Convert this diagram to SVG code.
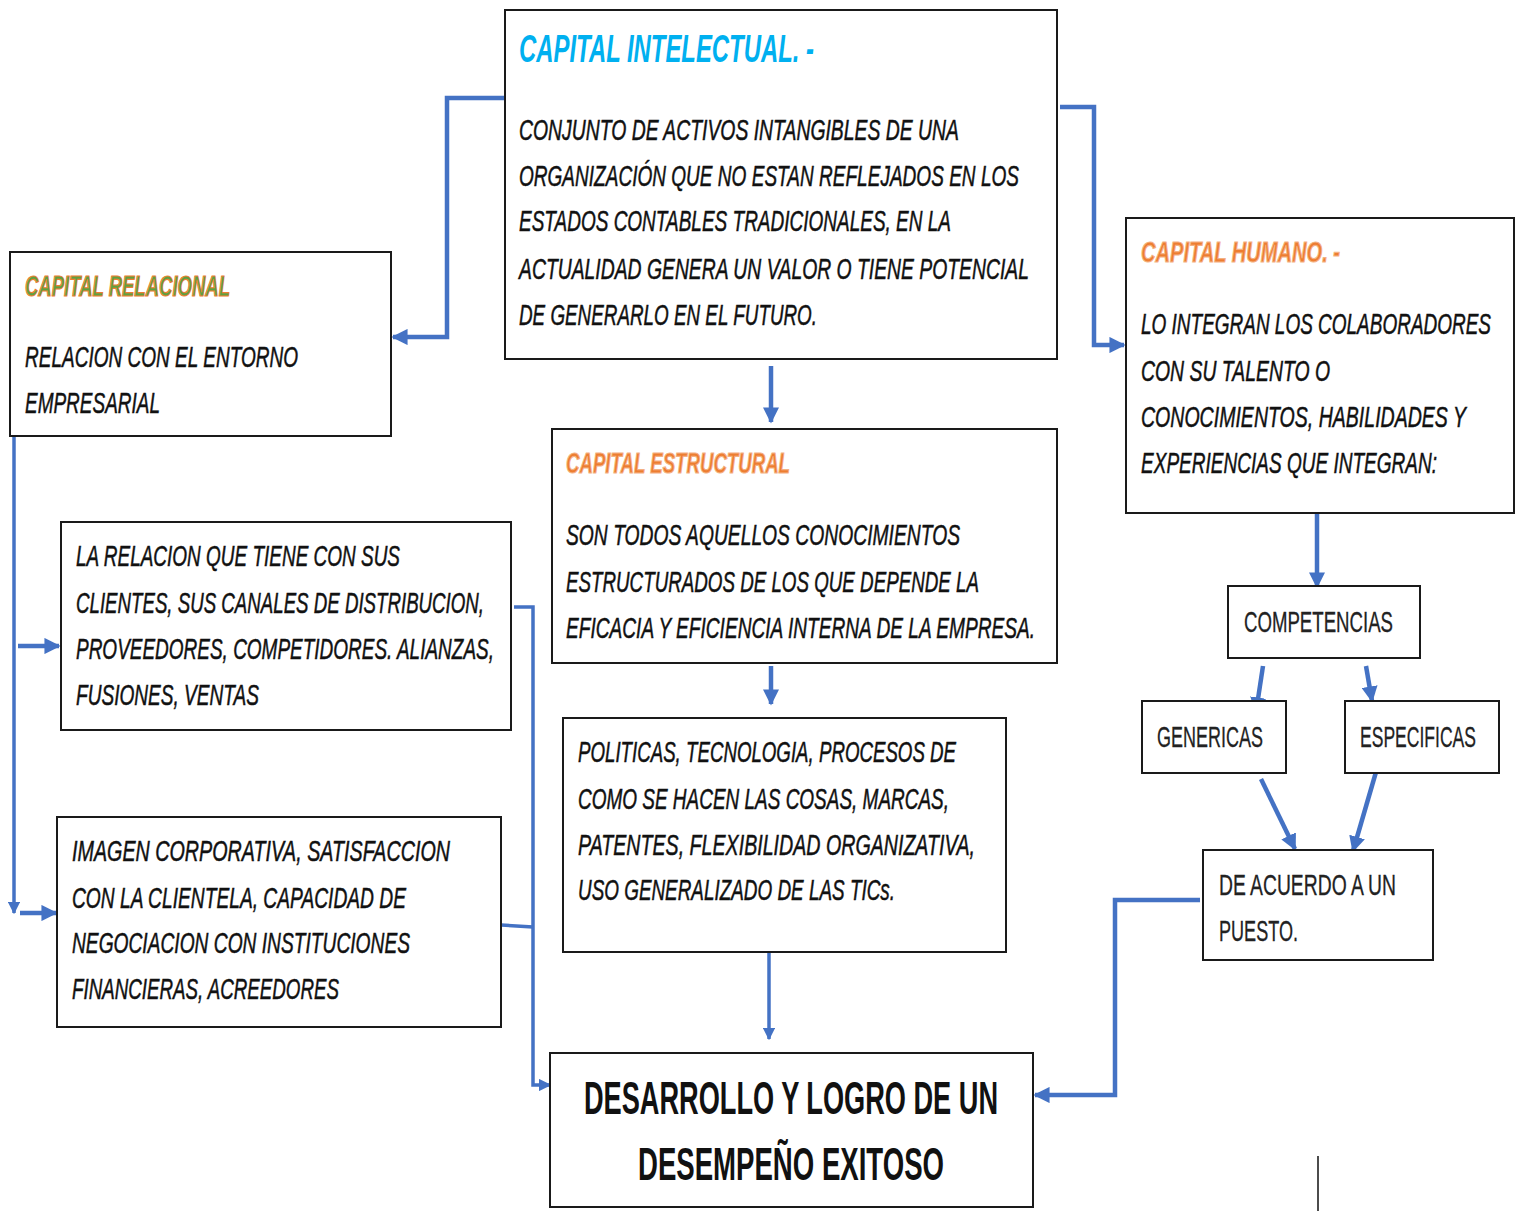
<svg xmlns="http://www.w3.org/2000/svg" width="1518" height="1211" viewBox="0 0 1518 1211">
<defs>
<style>
.box{fill:#fff;stroke:#1a1a1a;stroke-width:2}
.t{font-family:"Liberation Sans",Arial,sans-serif;font-style:italic;font-size:29px;fill:#111;stroke:#111;stroke-width:0.5}
.n{font-family:"Liberation Sans",Arial,sans-serif;font-size:29px;fill:#222;stroke:#222;stroke-width:0.3}
.big{font-family:"Liberation Sans",Arial,sans-serif;font-weight:bold;font-size:46px;fill:#111}
.ti{font-family:"Liberation Sans",Arial,sans-serif;font-style:italic;font-weight:bold;font-size:39px;fill:#00B0F0}
.to{font-family:"Liberation Sans",Arial,sans-serif;font-style:italic;font-weight:bold;font-size:29px;fill:#ED7D31;stroke:#F4B183;stroke-width:1.2}
.tg{font-family:"Liberation Sans",Arial,sans-serif;font-style:italic;font-weight:bold;font-size:29px;fill:#5FA040;stroke:#ED7D31;stroke-width:1.2}
.c{fill:none;stroke:#4472C4;stroke-width:4.5}
.k{fill:none;stroke:#4472C4;stroke-width:3.5}
</style>
<marker id="ah" viewBox="0 0 10 10" refX="9" refY="5" markerWidth="3.6" markerHeight="3.6" orient="auto" markerUnits="strokeWidth">
<path d="M0,0 L10,5 L0,10 z" fill="#4472C4"/>
</marker>
</defs>

<g id="connectors">
<path class="c" d="M507,98 H447 V337 H393" marker-end="url(#ah)"/>
<path class="c" d="M1060,107 H1094 V345 H1124" marker-end="url(#ah)"/>
<path class="c" d="M771,366 V422" marker-end="url(#ah)"/>
<path class="c" d="M771,666 V704" marker-end="url(#ah)"/>
<path class="k" d="M769,952 V1039" marker-end="url(#ah)"/>
<path class="c" d="M1317,513 V587" marker-end="url(#ah)"/>
<path class="c" d="M1263,666 L1256,712" marker-end="url(#ah)"/>
<path class="c" d="M1366,666 L1372,701" marker-end="url(#ah)"/>
<path class="c" d="M1261,779 L1295,849" marker-end="url(#ah)"/>
<path class="c" d="M1376,772 L1353,851" marker-end="url(#ah)"/>
<path class="c" d="M1200,900 H1115 V1095 H1035" marker-end="url(#ah)"/>
<path class="k" d="M14,437 V913" marker-end="url(#ah)"/>
<path class="c" d="M18,646 H59" marker-end="url(#ah)"/>
<path class="c" d="M20,913 H56" marker-end="url(#ah)"/>
<path class="k" d="M514,607 H533 V1085 H550" marker-end="url(#ah)"/>
<path class="k" d="M501,925 L533,927"/>
<path d="M1318,1156 V1211" stroke="#111" stroke-width="1.5" fill="none"/>
</g>

<g id="capital-intelectual">
<rect class="box" x="505" y="10" width="552" height="349"/>
<text class="ti" x="519" y="62" textLength="295" lengthAdjust="spacingAndGlyphs">CAPITAL INTELECTUAL. -</text>
<text class="t" x="519" y="140" textLength="440" lengthAdjust="spacingAndGlyphs">CONJUNTO DE ACTIVOS INTANGIBLES DE UNA</text>
<text class="t" x="519" y="186" textLength="500" lengthAdjust="spacingAndGlyphs">ORGANIZACIÓN QUE NO ESTAN REFLEJADOS EN LOS</text>
<text class="t" x="519" y="231" textLength="432" lengthAdjust="spacingAndGlyphs">ESTADOS CONTABLES TRADICIONALES, EN LA</text>
<text class="t" x="519" y="279" textLength="510" lengthAdjust="spacingAndGlyphs">ACTUALIDAD GENERA UN VALOR O TIENE POTENCIAL</text>
<text class="t" x="519" y="325" textLength="298" lengthAdjust="spacingAndGlyphs">DE GENERARLO EN EL FUTURO.</text>
</g>

<g id="capital-relacional">
<rect class="box" x="10" y="252" width="381" height="184"/>
<text class="tg" x="25" y="296" textLength="205" lengthAdjust="spacingAndGlyphs">CAPITAL RELACIONAL</text>
<text class="t" x="25" y="367" textLength="273" lengthAdjust="spacingAndGlyphs">RELACION CON EL ENTORNO</text>
<text class="t" x="25" y="413" textLength="135" lengthAdjust="spacingAndGlyphs">EMPRESARIAL</text>
</g>

<g id="capital-humano">
<rect class="box" x="1126" y="218" width="388" height="295"/>
<text class="to" x="1141" y="262" textLength="199" lengthAdjust="spacingAndGlyphs">CAPITAL HUMANO. -</text>
<text class="t" x="1141" y="334" textLength="350" lengthAdjust="spacingAndGlyphs">LO INTEGRAN LOS COLABORADORES</text>
<text class="t" x="1141" y="381" textLength="189" lengthAdjust="spacingAndGlyphs">CON SU TALENTO O</text>
<text class="t" x="1141" y="427" textLength="325" lengthAdjust="spacingAndGlyphs">CONOCIMIENTOS, HABILIDADES Y</text>
<text class="t" x="1141" y="473" textLength="296" lengthAdjust="spacingAndGlyphs">EXPERIENCIAS QUE INTEGRAN:</text>
</g>

<g id="capital-estructural">
<rect class="box" x="552" y="429" width="505" height="234"/>
<text class="to" x="566" y="473" textLength="224" lengthAdjust="spacingAndGlyphs">CAPITAL ESTRUCTURAL</text>
<text class="t" x="566" y="545" textLength="394" lengthAdjust="spacingAndGlyphs">SON TODOS AQUELLOS CONOCIMIENTOS</text>
<text class="t" x="566" y="592" textLength="413" lengthAdjust="spacingAndGlyphs">ESTRUCTURADOS DE LOS QUE DEPENDE LA</text>
<text class="t" x="566" y="638" textLength="469" lengthAdjust="spacingAndGlyphs">EFICACIA Y EFICIENCIA INTERNA DE LA EMPRESA.</text>
</g>

<g id="politicas">
<rect class="box" x="563" y="718" width="443" height="234"/>
<text class="t" x="578" y="762" textLength="378" lengthAdjust="spacingAndGlyphs">POLITICAS, TECNOLOGIA, PROCESOS DE</text>
<text class="t" x="578" y="809" textLength="371" lengthAdjust="spacingAndGlyphs">COMO SE HACEN LAS COSAS, MARCAS,</text>
<text class="t" x="578" y="855" textLength="397" lengthAdjust="spacingAndGlyphs">PATENTES, FLEXIBILIDAD ORGANIZATIVA,</text>
<text class="t" x="578" y="900" textLength="317" lengthAdjust="spacingAndGlyphs">USO GENERALIZADO DE LAS TICs.</text>
</g>

<g id="relacion-clientes">
<rect class="box" x="61" y="522" width="450" height="208"/>
<text class="t" x="76" y="566" textLength="324" lengthAdjust="spacingAndGlyphs">LA RELACION QUE TIENE CON SUS</text>
<text class="t" x="76" y="613" textLength="408" lengthAdjust="spacingAndGlyphs">CLIENTES, SUS CANALES DE DISTRIBUCION,</text>
<text class="t" x="76" y="659" textLength="418" lengthAdjust="spacingAndGlyphs">PROVEEDORES, COMPETIDORES. ALIANZAS,</text>
<text class="t" x="76" y="705" textLength="183" lengthAdjust="spacingAndGlyphs">FUSIONES, VENTAS</text>
</g>

<g id="imagen-corporativa">
<rect class="box" x="57" y="817" width="444" height="210"/>
<text class="t" x="72" y="861" textLength="378" lengthAdjust="spacingAndGlyphs">IMAGEN CORPORATIVA, SATISFACCION</text>
<text class="t" x="72" y="908" textLength="334" lengthAdjust="spacingAndGlyphs">CON LA CLIENTELA, CAPACIDAD DE</text>
<text class="t" x="72" y="953" textLength="338" lengthAdjust="spacingAndGlyphs">NEGOCIACION CON INSTITUCIONES</text>
<text class="t" x="72" y="999" textLength="267" lengthAdjust="spacingAndGlyphs">FINANCIERAS, ACREEDORES</text>
</g>

<g id="desarrollo">
<rect class="box" x="550" y="1053" width="483" height="154"/>
<text class="big" x="584" y="1114" textLength="414" lengthAdjust="spacingAndGlyphs">DESARROLLO Y LOGRO DE UN</text>
<text class="big" x="638" y="1180" textLength="306" lengthAdjust="spacingAndGlyphs">DESEMPEÑO EXITOSO</text>
</g>

<g id="competencias">
<rect class="box" x="1228" y="586" width="192" height="72"/>
<text class="n" x="1244" y="632" textLength="149" lengthAdjust="spacingAndGlyphs">COMPETENCIAS</text>
</g>

<g id="genericas">
<rect class="box" x="1142" y="701" width="144" height="72"/>
<text class="n" x="1157" y="747" textLength="106" lengthAdjust="spacingAndGlyphs">GENERICAS</text>
</g>

<g id="especificas">
<rect class="box" x="1345" y="701" width="154" height="72"/>
<text class="n" x="1360" y="747" textLength="116" lengthAdjust="spacingAndGlyphs">ESPECIFICAS</text>
</g>

<g id="de-acuerdo">
<rect class="box" x="1203" y="850" width="230" height="110"/>
<text class="n" x="1219" y="895" textLength="177" lengthAdjust="spacingAndGlyphs">DE ACUERDO A UN</text>
<text class="n" x="1219" y="941" textLength="79" lengthAdjust="spacingAndGlyphs">PUESTO.</text>
</g>
</svg>
